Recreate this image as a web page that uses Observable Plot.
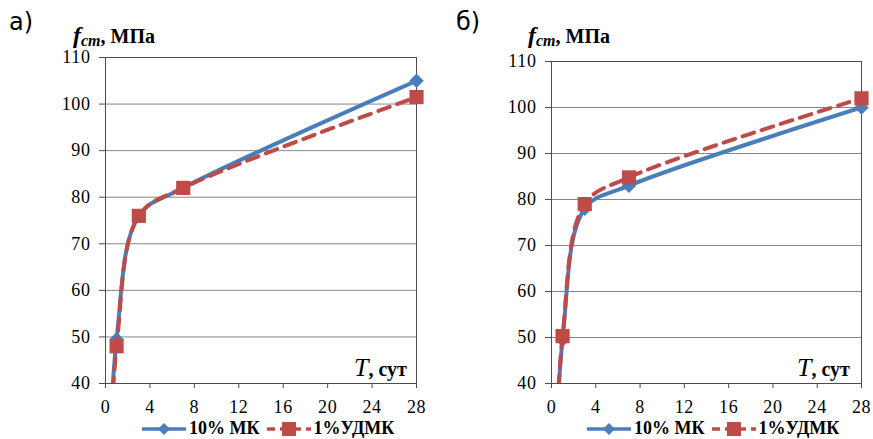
<!DOCTYPE html>
<html><head><meta charset="utf-8">
<script src="https://cdn.jsdelivr.net/npm/d3@7"></script>
<script src="https://cdn.jsdelivr.net/npm/@observablehq/plot@0.6"></script>
<style>
body{margin:0;background:#fff;}
#wrap{position:relative;width:873px;height:439px;overflow:hidden;font-family:'Liberation Serif',serif;color:#000;}
.panel{position:absolute;top:0;}
.plbl{position:absolute;font-family:'DejaVu Sans',sans-serif;font-size:24px;line-height:1;}
.ytitle{position:absolute;font-family:'Liberation Serif',serif;font-weight:bold;font-size:20px;line-height:1;white-space:nowrap;}
.ytitle i{font-size:24px;}
.ytitle sub{font-size:16px;font-style:italic;vertical-align:-3px;}
.xtitle{position:absolute;font-family:'Liberation Serif',serif;font-weight:bold;font-size:20px;line-height:1;white-space:nowrap;}
.xtitle i{font-weight:normal;font-size:26px;}
.legend{position:absolute;top:418px;display:flex;align-items:center;font-family:'Liberation Serif',serif;font-weight:bold;font-size:18px;white-space:nowrap;}
.legend .item{display:flex;align-items:center;margin-right:6px;}
.legend svg{margin-right:2px;}
</style>
</head><body>
<div id="wrap"></div>
<script>
// ---- data ----
const days = [0, 1, 3, 7, 28];
const seriesNames = ["10% МК", "1%УДМК"];
const panelA_MK   = [0, 49.5, 76, 82, 105];
const panelA_UDMK = [0, 48,   76, 82, 101.5];
const panelB_MK   = [0, 49.5, 78, 83, 100];
const panelB_UDMK = [0, 50.3, 79, 84.8, 102];
const xTicks = [0, 4, 8, 12, 16, 20, 24, 28];
const yTicks = [40, 50, 60, 70, 80, 90, 100, 110];
const panelLabels = ["а)", "б)"];

// ---- styles ----
const BLUE = "#4a7ebb";
const RED = "#be4b48";
const SERIF = "Liberation Serif";

function rows(vals, name) {
  return days.map((d, i) => ({day: d, v: vals[i], s: name}));
}

function panel(mk, udmk, m) {
  const dMK = rows(mk, seriesNames[0]);
  const dUD = rows(udmk, seriesNames[1]);
  const svg = Plot.plot({
    width: m.width, height: 415,
    marginTop: m.top, marginBottom: 32, marginLeft: m.left, marginRight: m.right,
    x: {domain: [0, 28]},
    y: {domain: [40, 110]},
    style: {fontSize: "18px", color: "#000", background: "transparent", overflow: "visible"},
    marks: [
      Plot.gridY(yTicks, {stroke: "#868686", strokeOpacity: 1}),
      Plot.frame({stroke: "#4d4d4d"}),
      Plot.axisX(xTicks, {tickSize: 5, tickPadding: 12, stroke: "#4d4d4d", fill: "#000", label: null}),
      Plot.axisY(yTicks, {tickSize: 6, tickPadding: 9, stroke: "#4d4d4d", fill: "#000", label: null}),
      Plot.line(dMK, {x: "day", y: "v", stroke: BLUE, strokeWidth: 4, curve: "catmull-rom", clip: true}),
      Plot.dot(dMK.filter(d => d.day > 0), {x: "day", y: "v", symbol: "diamond2", fill: BLUE, r: 6.5}),
      Plot.line(dUD, {x: "day", y: "v", stroke: RED, strokeWidth: 4, strokeDasharray: "12,8", curve: "catmull-rom", clip: true}),
      Plot.dot(dUD.filter(d => d.day > 0), {x: "day", y: "v", symbol: "square", fill: RED, r: 8})
    ]
  });
  svg.style.fontFamily = "'Liberation Serif', serif";
  svg.querySelectorAll("text").forEach(t => {
    t.setAttribute("font-family", SERIF);
    t.style.fontFamily = "'Liberation Serif', serif";
    t.style.letterSpacing = "0.6px";
  });
  return svg;
}

function legend(left) {
  const lg = document.createElement("div");
  lg.className = "legend";
  lg.style.left = left + "px";
  const specs = [
    {name: seriesNames[0], color: BLUE, dash: null, sym: "diamond"},
    {name: seriesNames[1], color: RED, dash: "8,5", sym: "square"}
  ];
  specs.forEach(s => {
    const it = document.createElement("div");
    it.className = "item";
    const marker = s.sym === "diamond"
      ? `<path d="M23,3 L29,9 L23,15 L17,9 Z" fill="${s.color}"/>`
      : `<rect x="16" y="2" width="14" height="14" fill="${s.color}"/>`;
    it.innerHTML = `<svg width="46" height="18"><line x1="1" x2="45" y1="9" y2="9" stroke="${s.color}" stroke-width="3.5" ${s.dash ? `stroke-dasharray="${s.dash}"` : ""}/>${marker}</svg><span style="font-family:'Liberation Serif',serif">${s.name}</span>`;
    lg.appendChild(it);
  });
  return lg;
}

const wrap = document.getElementById("wrap");
const cfg = [
  {data: [panelA_MK, panelA_UDMK], left: 0, m: {width: 436, top: 57, left: 105, right: 20},
   lbl: [9, 10], yt: [73, 23], xt: [354, 355], lg: 141},
  {data: [panelB_MK, panelB_UDMK], left: 436, m: {width: 437, top: 61, left: 115, right: 12},
   lbl: [456, 10], yt: [528, 23], xt: [797, 355], lg: 586}
];
cfg.forEach((c, i) => {
  const p = document.createElement("div");
  p.className = "panel";
  p.style.left = c.left + "px";
  p.appendChild(panel(c.data[0], c.data[1], c.m));
  wrap.appendChild(p);

  const l = document.createElement("div");
  l.className = "plbl";
  l.style.left = c.lbl[0] + "px"; l.style.top = c.lbl[1] + "px";
  l.textContent = panelLabels[i];
  wrap.appendChild(l);

  const yt = document.createElement("div");
  yt.className = "ytitle";
  yt.style.left = c.yt[0] + "px"; yt.style.top = c.yt[1] + "px";
  yt.innerHTML = "<i>f</i><sub>cm</sub>, МПа";
  wrap.appendChild(yt);

  const xt = document.createElement("div");
  xt.className = "xtitle";
  xt.style.left = c.xt[0] + "px"; xt.style.top = c.xt[1] + "px";
  xt.innerHTML = "<i>T</i>, сут";
  wrap.appendChild(xt);

  wrap.appendChild(legend(c.lg));
});
</script>
</body></html>
